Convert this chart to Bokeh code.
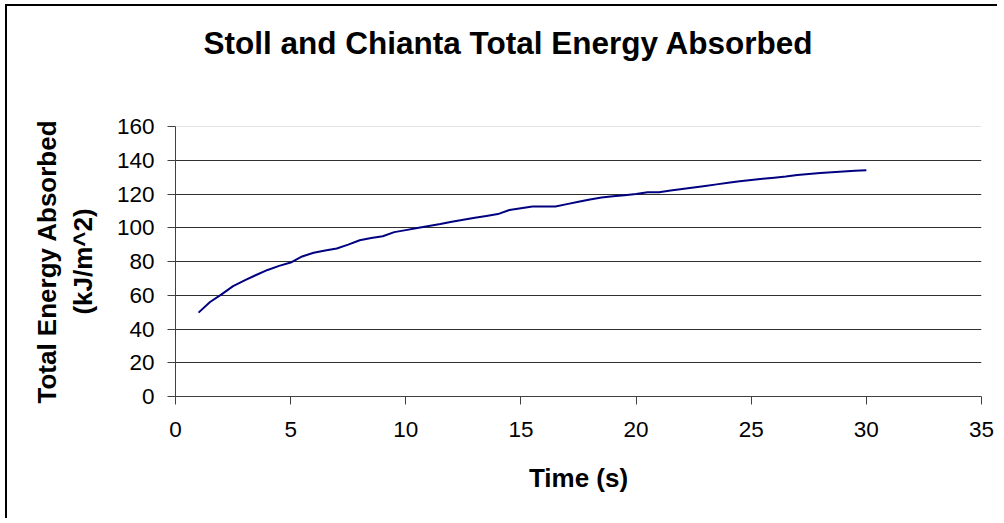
from bokeh.plotting import figure
from bokeh.models import FixedTicker, Range1d, Span, Title
from bokeh.embed import file_html
from bokeh.resources import INLINE

# Cumulative absorbed energy, sampled every half second
time_s = [1.0, 1.5, 2.0, 2.5, 3.0, 3.5, 4.0, 4.5, 5.0, 5.5, 6.0, 6.5, 7.0, 7.5,
          8.0, 8.5, 9.0, 9.5, 10.0, 10.5, 11.0, 11.5, 12.0, 12.5, 13.0, 13.5,
          14.0, 14.5, 15.0, 15.5, 16.0, 16.5, 17.0, 17.5, 18.0, 18.5, 19.0,
          19.5, 20.0, 20.5, 21.0, 21.5, 22.0, 22.5, 23.0, 23.5, 24.0, 24.5,
          25.0, 25.5, 26.0, 26.5, 27.0, 27.5, 28.0, 28.5, 29.0, 29.5, 30.0]
energy_kj_m2 = [49.7, 56.0, 60.5, 65.4, 68.8, 72.0, 75.0, 77.4, 79.4, 83.0,
                85.2, 86.5, 87.7, 90.0, 92.6, 93.9, 95.0, 97.4, 98.6, 99.8,
                101.0, 102.2, 103.5, 104.7, 105.9, 107.0, 108.1, 110.5, 111.6,
                112.6, 112.6, 112.6, 114.0, 115.4, 116.8, 117.9, 118.7, 119.2,
                120.0, 121.0, 121.1, 122.1, 123.0, 123.9, 124.8, 125.7, 126.6,
                127.5, 128.3, 129.0, 129.7, 130.4, 131.2, 131.8, 132.4, 132.9,
                133.4, 133.8, 134.1]

x_ticks = [0, 5, 10, 15, 20, 25, 30, 35]
y_ticks = [0, 20, 40, 60, 80, 100, 120, 140, 160]

FONT = "Liberation Sans"

p = figure(
    width=992, height=514,
    x_range=Range1d(0, 35), y_range=Range1d(0, 160),
    output_backend="svg", toolbar_location=None,
    min_border_left=168, min_border_right=18,
    min_border_top=120, min_border_bottom=124,
    margin=(4, 0, 0, 5),
    styles={"border-left": "2px solid black", "border-top": "2px solid black"},
)
p.outline_line_color = None
p.background_fill_color = "white"
p.border_fill_color = "white"

# blank gap next to the frame, with the chart title stacked above it
p.add_layout(Title(text=" ", standoff=61, text_font=FONT,
                   text_font_size="1px", text_color="white"), "above")
p.add_layout(Title(text="Stoll and Chianta Total Energy Absorbed",
                   align="left", offset=28, standoff=0, vertical_align="top",
                   text_font=FONT, text_font_size="31.5px",
                   text_font_style="bold", text_color="black"), "above")

# axes
for ax in (p.xaxis[0], p.yaxis[0]):
    ax.axis_line_color = "#404040"
    ax.major_tick_line_color = "#404040"
    ax.major_tick_out = 8
    ax.major_tick_in = 0
    ax.minor_tick_line_color = None
    ax.major_label_text_font = FONT
    ax.major_label_text_font_size = "22.5px"
    ax.major_label_text_color = "black"
    ax.axis_label_text_font = FONT
    ax.axis_label_text_font_size = "26px"
    ax.axis_label_text_font_style = "bold"
    ax.axis_label_text_color = "black"

p.xaxis.ticker = FixedTicker(ticks=x_ticks)
p.yaxis.ticker = FixedTicker(ticks=y_ticks)
p.xaxis.axis_label = "Time (s)"
p.yaxis.axis_label = "Total Energy Absorbed\n(kJ/m^2)"
p.xaxis.major_label_standoff = 17
p.yaxis.major_label_standoff = 13
p.xaxis.axis_label_standoff = 23
p.yaxis.axis_label_standoff = 16

# gridlines
p.xgrid.grid_line_color = None
p.ygrid.ticker = FixedTicker(ticks=y_ticks[1:-1])
p.ygrid.grid_line_color = "#303030"
p.ygrid.grid_line_width = 1
p.add_layout(Span(location=y_ticks[-1], dimension="width",
                  line_color="#c8c8c8", line_width=1))

p.line(time_s, energy_kj_m2, line_color="#000080", line_width=2)

open("out.html", "w").write(file_html(p, INLINE))
